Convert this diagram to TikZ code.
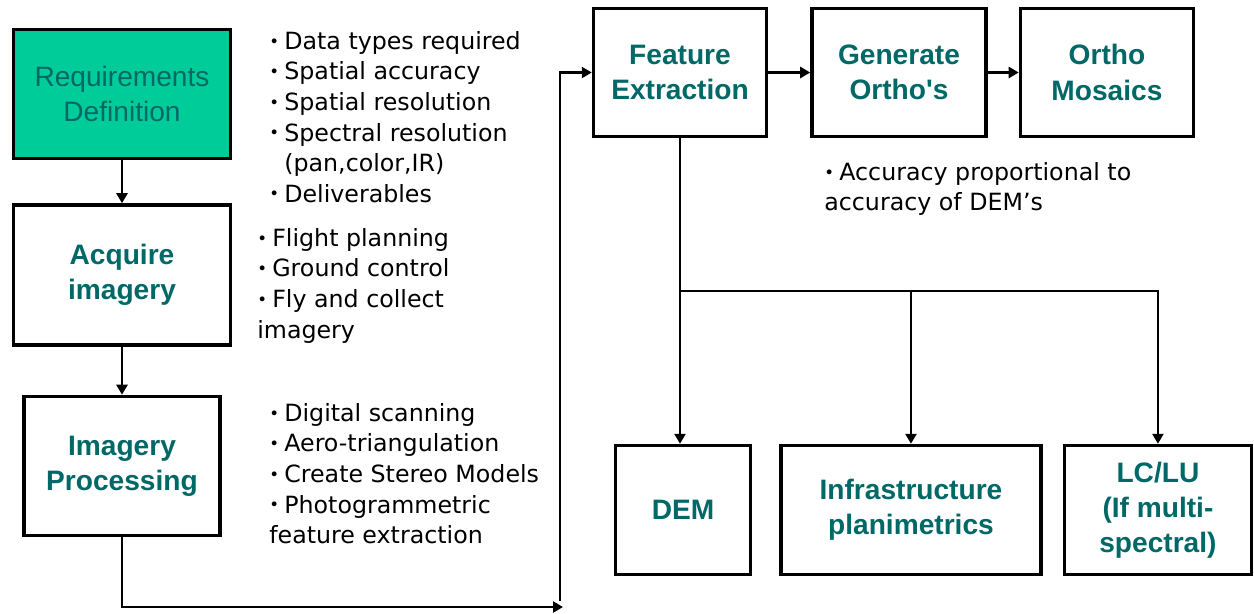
\documentclass[tikz,border=0pt]{standalone}
\usepackage{fontspec}
\setmainfont{DejaVu Sans}
\newfontfamily\boxfont{Liberation Sans}
\usepackage{xcolor}
\usepackage{graphicx}
\usetikzlibrary{positioning,arrows.meta}
\definecolor{reqgreen}{RGB}{0,204,153}
\definecolor{labelteal}{RGB}{0,104,102}
\tikzset{
	stage/.style={draw, line width=2pt, fill=white, align=center, inner sep=1mm, text=labelteal, font=\boxfont\fontsize{16}{20}\selectfont\bfseries},
	reqstage/.style={stage, fill=reqgreen, font=\boxfont\fontsize{16}{20}\selectfont},
	flow/.style={line width=1.4pt, -{Triangle[length=2mm,width=2.2mm]}},
	note/.style={align=left, anchor=north west, inner sep=0pt, font=\fontsize{13.5}{17.4}\selectfont}
}
\newcommand{\itm}{\makebox[0.30cm][l]{\raisebox{0.1em}{\scalebox{0.7}{•}}}}

\begin{document}
\begin{tikzpicture}[x=0.02cm, y=-0.02cm]
	\useasboundingbox (0,0) rectangle (1254,613);

	% left column
	\node[reqstage, minimum width=4.34cm, minimum height=2.58cm] (requirements) at (122,94) {Requirements\\Definition};
	\node[stage, minimum width=4.34cm, minimum height=2.80cm, below=0.86cm of requirements] (acquire) {Acquire\\imagery};
	\node[stage, minimum width=3.92cm, minimum height=2.78cm, below=0.96cm of acquire] (processing) {Imagery\\Processing};

	% top row
	\node[stage, minimum width=3.46cm, minimum height=2.56cm] (feature) at (680,72.5) {Feature\\Extraction};
	\node[stage, minimum width=3.48cm, minimum height=2.56cm, right=0.84cm of feature] (orthos) {Generate\\Ortho\textquotesingle s};
	\node[stage, minimum width=3.46cm, minimum height=2.56cm, right=0.62cm of orthos] (mosaics) {Ortho\\Mosaics};

	% bottom row
	\node[stage, minimum width=2.70cm, minimum height=2.58cm] (dem) at (683,510) {DEM};
	\node[stage, minimum width=5.20cm, minimum height=2.58cm, right=0.54cm of dem] (infra) {Infrastructure\\planimetrics};
	\node[stage, minimum width=3.74cm, minimum height=2.58cm, right=0.40cm of infra] (lclu) {LC/LU\\(If multi-\\spectral)};

	% notes
	\node[note] (req-notes) at (269,31) {\itm Data types required\\
		\itm Spatial accuracy\\
		\itm Spatial resolution\\
		\itm Spectral resolution\\
		\hspace{0.30cm}(pan,color,IR)\\
		\itm Deliverables};
	\node[note] (acq-notes) at (257,228) {\itm Flight planning\\
		\itm Ground control\\
		\itm Fly and collect\\
		imagery};
	\node[note] (proc-notes) at (269,403) {\itm Digital scanning\\
		\itm Aero-triangulation\\
		\itm Create Stereo Models\\
		\itm Photogrammetric\\
		feature extraction};
	\node[note] (ortho-notes) at (824,162) {\itm Accuracy proportional to\\
		accuracy of DEM’s};

	% connectors
	\draw[flow] (requirements) -- (acquire);
	\draw[flow] (acquire) -- (processing);
	\coordinate (loop-in) at (563,607);
	\coordinate (loop-up) at (560,601);
	\draw[flow] (processing.south) |- (loop-in);
	\draw[flow] (loop-up) |- (feature.west);
	\draw[flow] (feature) -- (orthos);
	\draw[flow] (orthos) -- (mosaics);
	\draw[flow] (feature.south) -- (feature.south |- dem.north);
	\coordinate (fork) at (680,291);
	\draw[flow] (fork) -| (infra.north);
	\draw[flow] (fork) -| (lclu.north);
\end{tikzpicture}
\end{document}
